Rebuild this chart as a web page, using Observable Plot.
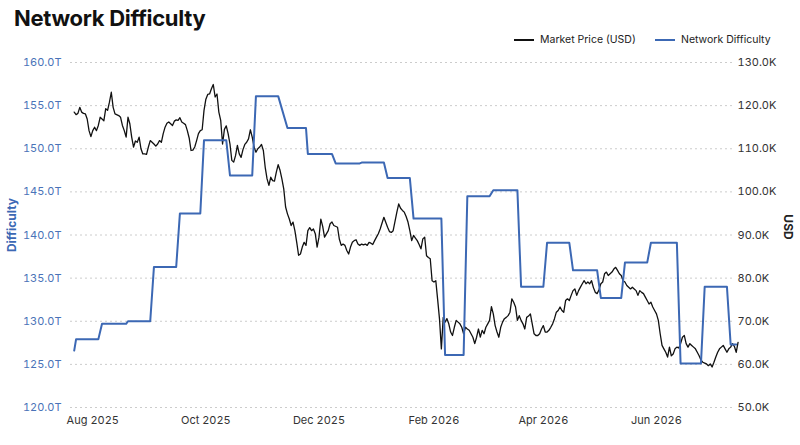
<!DOCTYPE html>
<html><head><meta charset="utf-8">
<script src="https://cdn.jsdelivr.net/npm/d3@7"></script>
<script src="https://cdn.jsdelivr.net/npm/@observablehq/plot@0.6"></script>
<style>
body{margin:0;background:#fff;font-family:Inter,"Noto Sans",sans-serif;}
#wrap{width:800px;}
#head{position:relative;height:50px;}
#title{position:absolute;left:14px;top:6px;font-size:22px;line-height:24px;font-weight:700;color:#111;letter-spacing:-0.3px;}
.leg{position:absolute;top:33px;font-size:10.5px;line-height:14px;color:#222;display:flex;align-items:center;white-space:nowrap;}
.sw{display:inline-block;width:20px;height:2px;margin-right:6px;}
</style></head><body>
<div id="wrap">
<div id="head">
<div id="title">Network Difficulty</div>
<div class="leg" style="left:514px"><span class="sw" style="background:#111"></span>Market Price (USD)</div>
<div class="leg" style="left:655px"><span class="sw" style="background:#3c68b4"></span>Network Difficulty</div>
</div>
<div id="chart"></div>
</div>
<script>
// Network difficulty (T), step changes
const difficulty = [
["2025-07-22",126.6],["2025-07-23",127.9],["2025-08-04",127.9],["2025-08-06",129.7],["2025-08-19",129.7],["2025-08-20",130.0],
["2025-09-01",130.0],["2025-09-03",136.3],["2025-09-15",136.3],["2025-09-17",142.5],["2025-09-28",142.5],["2025-09-30",151.0],
["2025-10-12",151.0],["2025-10-14",146.9],["2025-10-26",146.9],["2025-10-28",156.1],["2025-11-09",156.1],["2025-11-14",152.4],
["2025-11-24",152.4],["2025-11-25",149.4],["2025-12-08",149.4],["2025-12-10",148.3],["2025-12-23",148.3],["2025-12-24",148.4],
["2026-01-05",148.4],["2026-01-07",146.6],["2026-01-19",146.6],["2026-01-21",141.9],["2026-02-05",141.9],["2026-02-07",126.1],
["2026-02-17",126.1],["2026-02-19",144.5],["2026-03-03",144.5],["2026-03-05",145.2],["2026-03-18",145.2],["2026-03-20",134.0],
["2026-04-01",134.0],["2026-04-03",139.1],["2026-04-15",139.1],["2026-04-17",135.9],["2026-04-30",135.9],["2026-05-02",132.7],
["2026-05-13",132.7],["2026-05-15",136.8],["2026-05-27",136.8],["2026-05-29",139.1],["2026-06-12",139.1],["2026-06-14",125.1],
["2026-06-25",125.1],["2026-06-27",134.0],["2026-07-09",134.0],["2026-07-11",127.3],["2026-07-14",127.3]
];

// Market price (thousand USD)
const price = [
["2025-07-22",118.5],["2025-07-23",117.9],["2025-07-24",118.2],["2025-07-25",119.6],["2025-07-26",118.5],["2025-07-27",118.2],["2025-07-28",118.1],["2025-07-29",116.9],["2025-07-30",114.2],["2025-07-31",112.8],
["2025-08-01",114.2],["2025-08-02",115.0],["2025-08-03",114.2],["2025-08-04",115.4],["2025-08-05",117.3],["2025-08-06",116.9],["2025-08-07",116.5],["2025-08-08",119.3],["2025-08-09",118.9],["2025-08-10",120.8],["2025-08-11",123.1],["2025-08-12",119.6],["2025-08-13",118.1],["2025-08-15",117.7],["2025-08-16",117.3],["2025-08-17",115.4],["2025-08-18",114.2],["2025-08-19",112.7],["2025-08-20",117.3],["2025-08-21",115.8],["2025-08-22",112.7],["2025-08-23",110.4],["2025-08-24",111.8],["2025-08-25",111.5],["2025-08-26",112.7],["2025-08-27",110.0],["2025-08-28",108.8],["2025-08-29",108.8],["2025-08-30",108.7],["2025-08-31",110.4],
["2025-09-01",111.9],["2025-09-02",111.5],["2025-09-03",111.1],["2025-09-04",110.6],["2025-09-05",111.1],["2025-09-06",111.9],["2025-09-07",111.5],["2025-09-08",113.5],["2025-09-09",115.0],["2025-09-10",115.9],["2025-09-11",116.2],["2025-09-12",115.8],["2025-09-13",115.4],["2025-09-14",116.4],["2025-09-15",116.7],["2025-09-16",116.6],["2025-09-17",117.2],["2025-09-18",116.2],["2025-09-19",115.9],["2025-09-20",115.6],["2025-09-21",114.2],["2025-09-22",112.5],["2025-09-23",109.6],["2025-09-24",109.7],["2025-09-25",110.4],["2025-09-26",111.9],["2025-09-27",113.5],["2025-09-28",114.2],["2025-09-29",114.4],["2025-09-30",118.9],
["2025-10-01",121.5],["2025-10-02",122.6],["2025-10-03",122.7],["2025-10-04",123.9],["2025-10-05",124.9],["2025-10-06",122.0],["2025-10-07",122.7],["2025-10-08",118.5],["2025-10-09",116.6],["2025-10-10",111.1],["2025-10-11",114.5],["2025-10-12",115.3],["2025-10-13",113.5],["2025-10-14",111.1],["2025-10-15",107.3],["2025-10-16",106.9],["2025-10-17",108.4],["2025-10-18",110.8],["2025-10-19",108.8],["2025-10-20",108.0],["2025-10-21",109.8],["2025-10-22",111.0],["2025-10-23",111.5],["2025-10-24",112.3],["2025-10-25",114.4],["2025-10-26",112.7],["2025-10-27",110.4],["2025-10-28",109.2],["2025-10-29",110.0],["2025-10-30",110.4],["2025-10-31",111.0],
["2025-11-01",109.6],["2025-11-02",105.7],["2025-11-03",103.0],["2025-11-04",101.5],["2025-11-05",103.4],["2025-11-06",102.6],["2025-11-07",102.5],["2025-11-08",104.6],["2025-11-09",106.3],["2025-11-10",105.0],["2025-11-11",103.0],["2025-11-12",100.7],["2025-11-13",96.5],["2025-11-14",94.9],["2025-11-15",93.7],["2025-11-16",92.2],["2025-11-17",93.0],["2025-11-18",91.0],["2025-11-19",88.3],["2025-11-20",85.3],["2025-11-21",85.6],["2025-11-22",87.2],["2025-11-23",88.3],["2025-11-24",87.6],["2025-11-25",91.0],["2025-11-26",91.7],["2025-11-27",91.0],["2025-11-28",91.4],["2025-11-29",90.3],["2025-11-30",87.2],
["2025-12-01",89.5],["2025-12-02",93.7],["2025-12-03",92.0],["2025-12-04",89.5],["2025-12-06",91.0],["2025-12-07",92.6],["2025-12-08",93.0],["2025-12-09",92.2],["2025-12-11",91.8],["2025-12-12",89.0],["2025-12-13",87.6],["2025-12-14",87.9],["2025-12-15",87.6],["2025-12-16",86.4],["2025-12-17",85.6],["2025-12-18",87.2],["2025-12-19",88.3],["2025-12-20",88.7],["2025-12-21",88.9],["2025-12-22",87.9],["2025-12-23",87.6],["2025-12-24",87.9],["2025-12-25",87.7],["2025-12-26",87.9],["2025-12-27",87.6],["2025-12-28",88.3],["2025-12-29",88.1],["2025-12-30",87.8],["2025-12-31",88.7],
["2026-01-01",89.5],["2026-01-02",90.3],["2026-01-03",91.4],["2026-01-05",94.1],["2026-01-07",91.8],["2026-01-08",90.8],["2026-01-09",90.6],["2026-01-10",91.0],["2026-01-12",95.3],["2026-01-13",97.2],["2026-01-14",96.2],["2026-01-15",95.7],["2026-01-16",95.3],["2026-01-17",94.3],["2026-01-18",93.0],["2026-01-19",91.0],["2026-01-20",88.7],["2026-01-21",89.9],["2026-01-22",89.3],["2026-01-23",88.7],["2026-01-24",87.8],["2026-01-25",86.8],["2026-01-26",89.1],["2026-01-27",89.5],["2026-01-28",85.2],["2026-01-29",84.8],["2026-01-30",84.5],["2026-01-31",79.4],
["2026-02-01",79.1],["2026-02-02",79.4],["2026-02-03",75.0],["2026-02-04",70.5],["2026-02-05",63.6],["2026-02-06",70.9],["2026-02-07",69.8],["2026-02-08",70.6],["2026-02-09",69.4],["2026-02-10",67.5],["2026-02-11",66.7],["2026-02-12",68.6],["2026-02-13",70.2],["2026-02-14",69.8],["2026-02-15",69.4],["2026-02-16",68.6],["2026-02-17",67.1],["2026-02-18",68.6],["2026-02-19",68.2],["2026-02-20",67.9],["2026-02-21",67.1],["2026-02-22",66.3],["2026-02-23",64.8],["2026-02-24",66.3],["2026-02-25",68.2],["2026-02-26",66.3],["2026-02-27",67.9],["2026-02-28",67.1],
["2026-03-01",68.6],["2026-03-02",69.4],["2026-03-03",70.2],["2026-03-04",73.4],["2026-03-05",71.7],["2026-03-06",69.0],["2026-03-07",67.5],["2026-03-08",66.3],["2026-03-09",68.6],["2026-03-10",69.8],["2026-03-11",70.6],["2026-03-12",70.9],["2026-03-13",71.3],["2026-03-14",72.1],["2026-03-15",75.2],["2026-03-16",74.4],["2026-03-17",73.3],["2026-03-18",70.2],["2026-03-19",71.3],["2026-03-20",70.2],["2026-03-21",69.4],["2026-03-22",68.2],["2026-03-23",70.9],["2026-03-24",71.2],["2026-03-25",71.7],["2026-03-26",69.4],["2026-03-27",67.1],["2026-03-28",66.7],["2026-03-29",66.7],["2026-03-30",67.1],["2026-03-31",68.2],
["2026-04-01",69.0],["2026-04-02",67.5],["2026-04-03",67.5],["2026-04-04",67.9],["2026-04-05",68.6],["2026-04-06",69.4],["2026-04-07",70.6],["2026-04-08",72.1],["2026-04-09",72.5],["2026-04-10",73.3],["2026-04-11",72.5],["2026-04-12",72.1],["2026-04-13",74.8],["2026-04-14",75.2],["2026-04-15",74.8],["2026-04-16",76.0],["2026-04-17",77.1],["2026-04-18",77.5],["2026-04-19",76.0],["2026-04-20",77.1],["2026-04-21",77.9],["2026-04-22",78.7],["2026-04-23",79.4],["2026-04-24",78.7],["2026-04-25",79.1],["2026-04-26",78.7],["2026-04-27",79.4],["2026-04-28",77.8],["2026-04-29",76.7],["2026-04-30",76.4],
["2026-05-01",77.3],["2026-05-02",78.7],["2026-05-03",79.1],["2026-05-04",81.0],["2026-05-05",81.4],["2026-05-06",80.6],["2026-05-07",81.0],["2026-05-08",81.4],["2026-05-09",82.1],["2026-05-10",82.5],["2026-05-11",81.8],["2026-05-12",81.0],["2026-05-13",80.6],["2026-05-14",79.4],["2026-05-15",79.1],["2026-05-16",78.3],["2026-05-17",77.9],["2026-05-18",77.5],["2026-05-19",77.9],["2026-05-20",77.5],["2026-05-21",77.1],["2026-05-22",76.0],["2026-05-23",77.1],["2026-05-24",76.7],["2026-05-25",76.4],["2026-05-26",75.6],["2026-05-27",74.8],["2026-05-28",74.0],["2026-05-29",74.4],["2026-05-30",73.3],["2026-05-31",72.5],
["2026-06-01",71.7],["2026-06-02",70.2],["2026-06-03",67.1],["2026-06-04",64.4],["2026-06-05",63.6],["2026-06-06",62.8],["2026-06-07",61.7],["2026-06-08",64.0],["2026-06-09",62.0],["2026-06-10",62.4],["2026-06-11",63.6],["2026-06-12",64.0],["2026-06-13",63.8],["2026-06-14",64.8],["2026-06-15",66.3],["2026-06-16",66.7],["2026-06-17",64.8],["2026-06-18",64.0],["2026-06-19",64.8],["2026-06-20",64.4],["2026-06-21",64.0],["2026-06-22",63.6],["2026-06-23",62.8],["2026-06-24",62.0],["2026-06-25",61.0],["2026-06-26",60.5],["2026-06-27",60.3],["2026-06-28",60.1],["2026-06-29",59.7],["2026-06-30",60.1],
["2026-07-01",59.4],["2026-07-02",60.5],["2026-07-03",61.7],["2026-07-04",62.8],["2026-07-05",63.6],["2026-07-06",64.0],["2026-07-07",64.4],["2026-07-08",63.6],["2026-07-09",62.8],["2026-07-10",63.6],["2026-07-11",64.0],["2026-07-12",64.8],["2026-07-13",64.2],["2026-07-14",62.8],["2026-07-15",65.1]
];

const difficultyTicks = [120,125,130,135,140,145,150,155,160];
const usdTicks = [50,60,70,80,90,100,110,120,130];
const xTicks = ["2025-08-01","2025-10-01","2025-12-01","2026-02-01","2026-04-01","2026-06-01"];
const xDomain = ["2025-07-20","2026-07-12"];

const BLUE = "#3c68b4";
const parse = d3.utcParse("%Y-%m-%d");
// secondary axis: USD [50K,130K] shares the vertical range of difficulty [120T,160T]
const toLeft = usd => 120 + (usd - 50) * 40 / 80;
const fromLeft = t => 50 + (t - 120) * 80 / 40;

const diffData = difficulty.map(([d, v]) => ({date: parse(d), value: v}));
const priceData = price.map(([d, v]) => ({date: parse(d), value: toLeft(v)}));

const chart = Plot.plot({
  width: 800, height: 395,
  marginTop: 12, marginBottom: 38, marginLeft: 70, marginRight: 68,
  style: {fontFamily: "Inter, 'Noto Sans', sans-serif", fontSize: "11px", background: "#fff", overflow: "visible"},
  x: {type: "utc", domain: xDomain.map(parse)},
  y: {domain: [120, 160]},
  marks: [
    Plot.gridY(difficultyTicks, {stroke: "#cccccc", strokeOpacity: 1, strokeDasharray: "2,3"}),
    Plot.axisY(difficultyTicks, {anchor: "left", tickSize: 0, tickPadding: 9, tickFormat: d => d.toFixed(1) + "T", fill: "#4a73b8", label: null}),
    Plot.axisY(usdTicks.map(toLeft), {anchor: "right", tickSize: 0, tickPadding: 5, tickFormat: d => fromLeft(d).toFixed(1) + "K", fill: "#333", label: null}),
    Plot.axisX(xTicks.map(parse), {tickSize: 0, tickPadding: 9, tickFormat: d3.utcFormat("%b %Y"), fill: "#333", label: null}),
    Plot.line(priceData, {x: "date", y: "value", stroke: "#111", strokeWidth: 1.3}),
    Plot.line(diffData, {x: "date", y: "value", stroke: BLUE, strokeWidth: 2}),
    Plot.text(["Difficulty"], {frameAnchor: "left", textAnchor: "middle", dx: -58, dy: -10, rotate: -90, fill: BLUE, fontWeight: "bold", fontSize: 12}),
    Plot.text(["USD"], {frameAnchor: "right", textAnchor: "middle", dx: 55, dy: -8, rotate: 90, fill: "#222", fontWeight: "bold", fontSize: 12})
  ]
});
document.getElementById("chart").appendChild(chart);
</script>
</body></html>
